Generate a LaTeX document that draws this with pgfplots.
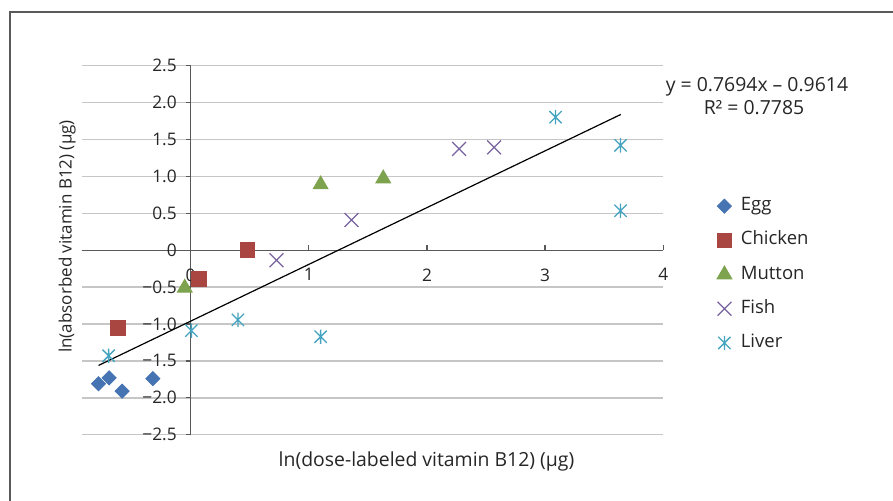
\documentclass[border=0pt]{standalone}
\usepackage{pgfplots}
\pgfplotsset{compat=1.18}
\usepackage{fontspec}
\setmainfont{Open Sans}
\definecolor{cegg}{HTML}{4674B2}
\definecolor{cchk}{HTML}{A94642}
\definecolor{cmut}{HTML}{7EA34F}
\definecolor{cfish}{HTML}{7762A0}
\definecolor{cliv}{HTML}{45A4BF}
\definecolor{axisgray}{HTML}{595959}
\definecolor{gridgray}{HTML}{C6C6C6}
\definecolor{textcol}{HTML}{262626}
\pgfdeclareplotmark{xstar}{%
  \pgfpathmoveto{\pgfqpoint{0pt}{\pgfplotmarksize}}%
  \pgfpathlineto{\pgfqpoint{0pt}{-\pgfplotmarksize}}%
  \pgfpathmoveto{\pgfqpoint{-.85\pgfplotmarksize}{-.85\pgfplotmarksize}}%
  \pgfpathlineto{\pgfqpoint{.85\pgfplotmarksize}{.85\pgfplotmarksize}}%
  \pgfpathmoveto{\pgfqpoint{-.85\pgfplotmarksize}{.85\pgfplotmarksize}}%
  \pgfpathlineto{\pgfqpoint{.85\pgfplotmarksize}{-.85\pgfplotmarksize}}%
  \pgfusepathqstroke}
\begin{document}
\begin{tikzpicture}
\useasboundingbox (0,0) rectangle (446.5pt,250pt);
\draw[axisgray, line width=0.65pt] (5pt,-2pt) -- (5pt,244pt) -- (448pt,244pt);
\begin{axis}[
  at={(40.85pt,32.65pt)}, anchor=south west,
  scale only axis, width=290.8pt, height=184.5pt,
  xmin=-0.922, xmax=4, ymin=-2.5, ymax=2.5,
  axis lines=middle,
  axis line style={-, draw=axisgray, line width=0.65pt},
  xtick={0,1,2,3,4}, xticklabels={0,1,2,3,4},
  ytick={-2.5,-2,-1.5,-1,-0.5,0,0.5,1,1.5,2,2.5},
  yticklabels={−2.5,−2.0,−1.5,−1.0,−0.5,0,0.5,1.0,1.5,2.0,2.5},
  hide obscured x ticks=false, hide obscured y ticks=false,
  tick align=inside, major tick length=2.5pt,
  tick style={draw=axisgray, line width=0.65pt},
  every major y tick/.append style={xshift=-2.5pt},
  ymajorgrids, major grid style={draw=gridgray, line width=0.7pt},
  xticklabel style={font=\fontsize{8.65}{10}\selectfont, text=textcol, anchor=north, yshift=-5.6pt},
  yticklabel style={font=\fontsize{8.65}{10}\selectfont, text=textcol, anchor=east, xshift=-3.45pt},
  clip=false,
  legend image code/.code={\draw[mark repeat=2,mark phase=2,#1] plot coordinates {(0pt,0pt)(5pt,0pt)(10pt,0pt)};},
  legend style={draw=none, fill=none, inner sep=0pt, outer sep=0pt,
    at={(1.0923,0.434)}, anchor=west,
    font=\fontsize{9.25}{11}\selectfont, text=textcol,
    nodes={inner sep=1.5pt, text height=7pt, text depth=2.5pt},
    row sep=4.6pt, column sep=3pt},
  legend cell align=left,
]
\addplot[only marks, mark=square*, mark size=2.5pt, mark options={rotate=45, draw=cegg, fill=cegg}]
  coordinates {(-0.78,-1.81) (-0.69,-1.73) (-0.58,-1.91) (-0.32,-1.74)};
\addlegendentry{Egg}
\addplot[only marks, mark=square*, mark size=3.7pt, mark options={draw=cchk, fill=cchk}]
  coordinates {(-0.615,-1.05) (0.07,-0.385) (0.48,0.0)};
\addlegendentry{Chicken}
\addplot[only marks, mark=triangle*, mark size=4.3pt, mark options={draw=cmut, fill=cmut}]
  coordinates {(-0.05,-0.51) (1.10,0.89) (1.63,0.97)};
\addlegendentry{Mutton}
\addplot[only marks, mark=x, mark size=4.9pt, mark options={draw=cfish, line width=0.6pt}]
  coordinates {(0.726,-0.136) (1.361,0.409) (2.272,1.372) (2.568,1.394)};
\addlegendentry{Fish}
\addplot[only marks, mark=xstar, mark size=3.6pt, mark options={draw=cliv, line width=0.65pt}]
  coordinates {(-0.694,-1.43) (0.006,-1.09) (0.40,-0.944) (1.10,-1.172) (3.088,1.803) (3.638,1.421) (3.638,0.535)};
\addlegendentry{Liver}
\addplot[black, line width=0.6pt, forget plot] coordinates {(-0.78,-1.5615) (3.64,1.8392)};
\end{axis}
\node[anchor=base, font=\fontsize{9.7}{11}\selectfont, text=textcol] at (378.5pt,204.15pt) {y = 0.7694x – 0.9614};
\node[anchor=base, font=\fontsize{9.7}{11}\selectfont, text=textcol] at (377pt,193pt) {R² = 0.7785};
\node[anchor=base, font=\fontsize{9.7}{11}\selectfont, text=textcol] at (213.25pt,16.75pt) {ln(dose-labeled vitamin B12) (μg)};
\node[anchor=base, rotate=90, font=\fontsize{8.5}{10}\selectfont, text=textcol] at (35.75pt,131.75pt) {ln(absorbed vitamin B12) (μg)};
\end{tikzpicture}
\end{document}
